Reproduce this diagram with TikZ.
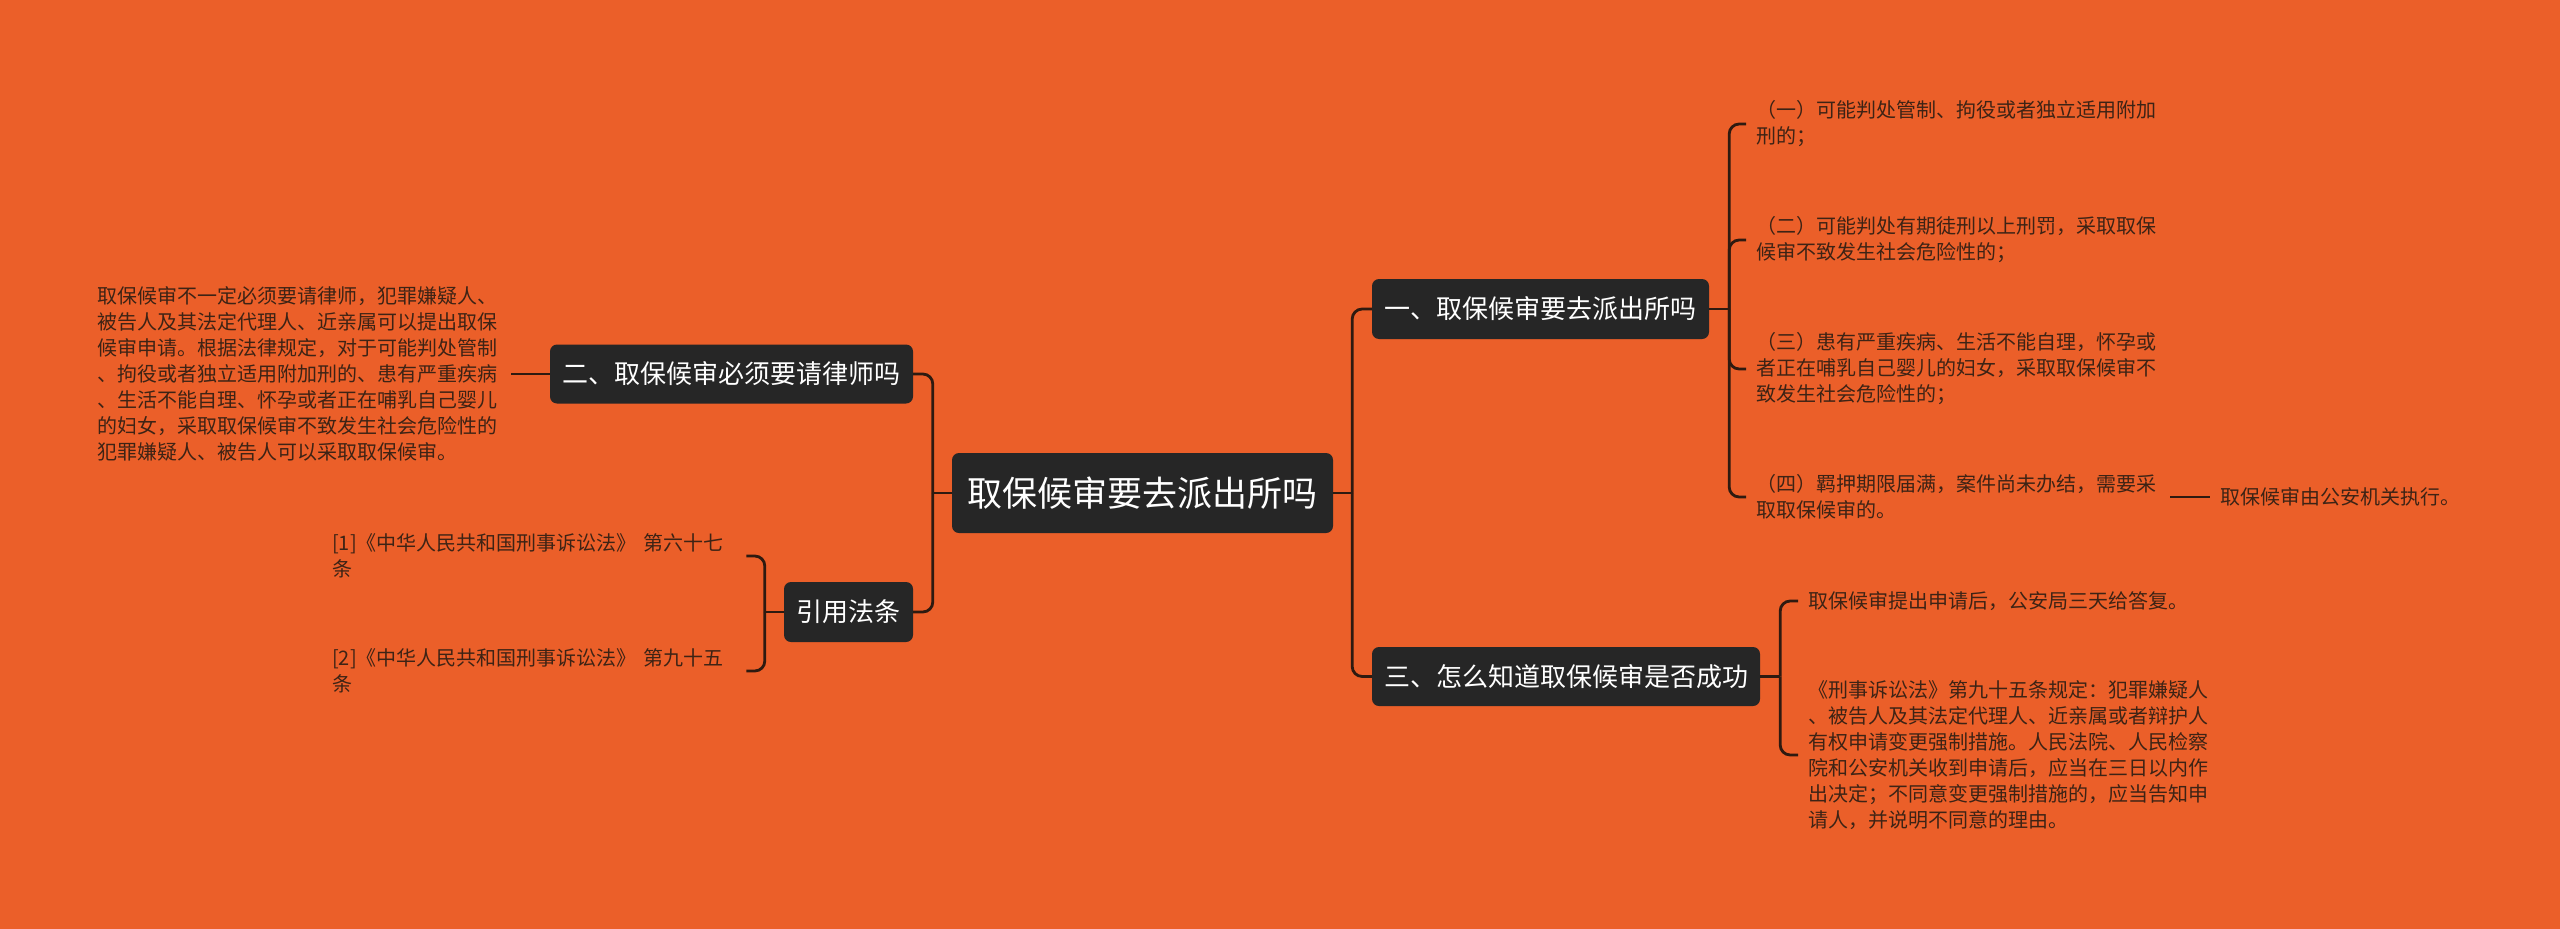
\documentclass[tikz,border=0pt]{standalone}
\usepackage{fontspec}
\setmainfont{Noto Sans CJK SC}
\usetikzlibrary{calc}
\definecolor{bg}{HTML}{EB5F29}
\definecolor{boxc}{HTML}{262626}
\definecolor{linec}{HTML}{2E1A10}
\definecolor{txtc}{HTML}{3D2315}
\tikzset{
  topic/.style={rectangle, rounded corners=7pt, fill=boxc, text=white, inner sep=0pt, align=center,
    font=\fontsize{26pt}{30pt}\selectfont},
  leaf/.style={inner xsep=10pt, inner ysep=0pt, text width=404pt, align=left, text=txtc,
    font=\fontsize{20pt}{26pt}\selectfont},
  leafone/.style={inner xsep=10pt, inner ysep=0pt, text=txtc, font=\fontsize{20pt}{26pt}\selectfont},
  conn/.style={draw=linec, line width=2.8pt, rounded corners=10pt},
}
\begin{document}
\begin{tikzpicture}[x=1pt,y=-1pt]
\useasboundingbox (0,0) rectangle (2560,929);
\fill[bg] (0,0) rectangle (2560,929);

% main topic
\node[topic, minimum width=381pt, minimum height=80pt, font=\fontsize{35pt}{40pt}\selectfont] (root) at (1142.5,493) {取保候审要去派出所吗};

% first-level topics
\node[topic, minimum width=337pt, minimum height=60pt] (n1) at (1540.5,309) {一、取保候审要去派出所吗};
\node[topic, minimum width=388pt, minimum height=59pt] (n3) at (1566,676.5) {三、怎么知道取保候审是否成功};
\node[topic, minimum width=363pt, minimum height=59pt] (n2) at (731.5,374) {二、取保候审必须要请律师吗};
\node[topic, minimum width=129pt, minimum height=60pt] (n4) at (848.5,612) {引用法条};

% leaves of n2
\node[leaf, anchor=west] (t2) at (87,374) {取保候审不一定必须要请律师，犯罪嫌疑人、\\被告人及其法定代理人、近亲属可以提出取保\\候审申请。根据法律规定，对于可能判处管制\\、拘役或者独立适用附加刑的、患有严重疾病\\、生活不能自理、怀孕或者正在哺乳自己婴儿\\的妇女，采取取保候审不致发生社会危险性的\\犯罪嫌疑人、被告人可以采取取保候审。};

% leaves of n4
\node[leaf, anchor=west] (r1) at (322,556) {[1]《中华人民共和国刑事诉讼法》~第六十七\\条};
\node[leaf, anchor=west] (r2) at (322,671) {[2]《中华人民共和国刑事诉讼法》~第九十五\\条};

% leaves of n1
\node[leaf, anchor=west] (c11) at (1746,124) {（一）可能判处管制、拘役或者独立适用附加\\刑的；};
\node[leaf, anchor=west] (c12) at (1746,240) {（二）可能判处有期徒刑以上刑罚，采取取保\\候审不致发生社会危险性的；};
\node[leaf, anchor=west] (c13) at (1746,369) {（三）患有严重疾病、生活不能自理，怀孕或\\者正在哺乳自己婴儿的妇女，采取取保候审不\\致发生社会危险性的；};
\node[leaf, anchor=west] (c14) at (1746,497) {（四）羁押期限届满，案件尚未办结，需要采\\取取保候审的。};
\node[leafone, anchor=west] (c141) at ($(c14.east)+(40,0)$) {取保候审由公安机关执行。};

% leaves of n3
\node[leaf, anchor=west] (c31) at (1798,601) {取保候审提出申请后，公安局三天给答复。};
\node[leaf, anchor=west] (c32) at (1798,755) {《刑事诉讼法》第九十五条规定：犯罪嫌疑人\\、被告人及其法定代理人、近亲属或者辩护人\\有权申请变更强制措施。人民法院、人民检察\\院和公安机关收到申请后，应当在三日以内作\\出决定；不同意变更强制措施的，应当告知申\\请人，并说明不同意的理由。};

% junction points
\coordinate (jr) at ($(root.east)+(19,0)$);
\coordinate (jl) at ($(root.west)+(-19,0)$);
\coordinate (j1) at ($(n1.east)+(20,0)$);
\coordinate (j3) at ($(n3.east)+(20,0)$);
\coordinate (j4) at ($(n4.west)+(-19,0)$);

% connectors
\draw[conn] (root.east) -- (jr);
\draw[conn] (jr) |- (n1.west);
\draw[conn] (jr) |- (n3.west);
\draw[conn] (root.west) -- (jl);
\draw[conn] (jl) |- (n2.east);
\draw[conn] (jl) |- (n4.east);

\draw[conn] (n2.west) -- (t2.east);

\draw[conn] (n4.west) -- (j4);
\draw[conn] (j4) |- (r1.east);
\draw[conn] (j4) |- (r2.east);

\draw[conn] (n1.east) -- (j1);
\draw[conn] (j1) |- (c11.west);
\draw[conn] (j1) |- (c12.west);
\draw[conn] (j1) |- (c13.west);
\draw[conn] (j1) |- (c14.west);
\draw[conn] (c14.east) -- (c141.west);

\draw[conn] (n3.east) -- (j3);
\draw[conn] (j3) |- (c31.west);
\draw[conn] (j3) |- (c32.west);
\end{tikzpicture}
\end{document}
